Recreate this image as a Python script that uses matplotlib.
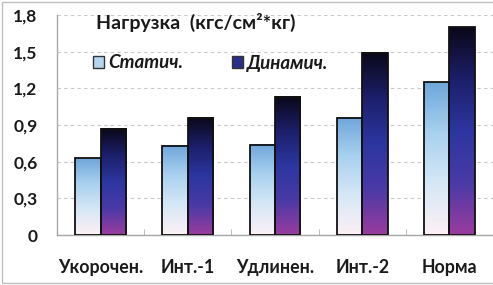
import matplotlib
matplotlib.use("Agg")
import matplotlib.pyplot as plt
import numpy as np
from matplotlib.colors import LinearSegmentedColormap
from matplotlib.patches import Rectangle, Patch

categories = ["Укорочен.", "Инт.-1", "Удлинен.", "Инт.-2", "Норма"]
static_vals = [0.63, 0.73, 0.74, 0.96, 1.25]
dynamic_vals = [0.87, 0.96, 1.13, 1.49, 1.70]
series_names = ["Статич.", "Динамич."]
yticks = [0, 0.3, 0.6, 0.9, 1.2, 1.5, 1.8]
ytick_labels = ["0", "0,3", "0,6", "0,9", "1,2", "1,5", "1,8"]
title = "Нагрузка  (кгс/см²*кг)"

# gradients run bottom -> top within each bar
static_cmap = LinearSegmentedColormap.from_list(
    "stat", ["#fdf0f5", "#d6e8f6", "#a9d1ef", "#6fa6da"])
dyn_cmap = LinearSegmentedColormap.from_list(
    "dyn", ["#9a3c9e", "#4a3aa6", "#2c36a0", "#1c1f6a", "#0a0818"])

FONT = ["Lato", "DejaVu Sans"]
TXT = "#1a1a1a"

fig = plt.figure(figsize=(4.93, 2.85), dpi=100)
ax = fig.add_axes([57 / 493, 50 / 285, 436 / 493, 220 / 285])

width = 0.292
grad = np.linspace(0, 1, 256).reshape(-1, 1)


def grad_bar(x0, h, cmap):
    ax.imshow(grad, cmap=cmap, origin="lower", aspect="auto",
              extent=(x0, x0 + width, 0, h), zorder=2, interpolation="bilinear")
    ax.add_patch(Rectangle((x0, 0), width, h, fill=False, edgecolor="#111111",
                           linewidth=1.3, zorder=3))


x = np.arange(len(categories))
for i in x:
    grad_bar(i - width, static_vals[i], static_cmap)
    grad_bar(i, dynamic_vals[i], dyn_cmap)

ax.set_xlim(-0.5, len(categories) - 0.5)
ax.set_ylim(0, 1.8)
ax.set_yticks(yticks)
ax.set_yticklabels(ytick_labels)
ax.set_xticks(x)
ax.set_xticklabels(categories)
ax.set_xticks(np.arange(0.5, len(categories) - 0.5, 1), minor=True)
ax.tick_params(axis="y", length=0, pad=14)
ax.tick_params(axis="x", which="major", length=0, pad=17)
ax.tick_params(axis="x", which="minor", length=4, direction="in", color="#b0b0b0")
for lab in ax.get_xticklabels():
    lab.set_fontsize(12.8)
for lab in ax.get_yticklabels():
    lab.set_fontsize(12.5)
for lab in ax.get_xticklabels() + ax.get_yticklabels():
    lab.set_fontfamily(FONT)
    lab.set_fontweight("bold")
    lab.set_color(TXT)

ax.grid(axis="y", linestyle=(0, (3, 3)), color="#c8c8c8", linewidth=0.8, zorder=0)
ax.set_axisbelow(True)
for s in ("top", "right"):
    ax.spines[s].set_visible(False)
for s in ("left", "bottom"):
    ax.spines[s].set_color("#a8a8a8")
    ax.spines[s].set_linewidth(1.0)

fig.text(96 / 493, 1 - 22 / 285, title, fontfamily=FONT, fontweight="bold",
         fontsize=14, color=TXT, va="center", ha="left")

handles = [Patch(facecolor="#b5d6f0", edgecolor="#333333", linewidth=1.0),
           Patch(facecolor="#28308a", edgecolor="#333333", linewidth=1.0)]
leg = ax.legend(handles, series_names, loc="center left",
                bbox_to_anchor=(76 / 493, 1 - 63 / 285), bbox_transform=fig.transFigure,
                ncol=2, frameon=False, handlelength=0.6, handleheight=0.6,
                handletextpad=0.2, columnspacing=2.6,
                prop={"family": FONT, "weight": "bold", "style": "italic", "size": 13.5})
for t in leg.get_texts():
    t.set_color(TXT)

# outer frame of the chart area
fig.patches.append(Rectangle((2 / 493, 2 / 285), 1.2, 281 / 285, transform=fig.transFigure,
                             fill=False, edgecolor="#c0c0c0", linewidth=1.0))

fig.savefig("out.png", dpi=100)
